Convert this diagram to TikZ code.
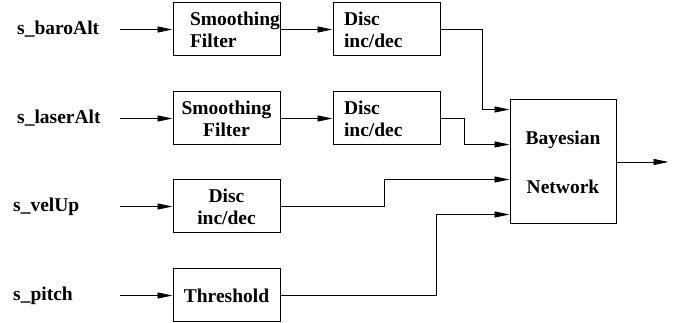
\documentclass[tikz,border=0pt]{standalone}
\usepackage{fontspec}
\setmainfont{Liberation Serif}
\usetikzlibrary{arrows.meta,positioning}
\tikzset{
  blk/.style={draw, line width=1pt, minimum width=107pt, minimum height=53pt, inner sep=0pt, align=center},
  sig/.style={anchor=west, inner sep=0pt},
}
\begin{document}
\begin{tikzpicture}[x=1pt,y=1pt,font=\fontsize{19.5}{22}\selectfont\bfseries,
    node distance=160pt, >={Triangle[length=15pt,width=6pt]}]
  \useasboundingbox (0,0) rectangle (678,323);
  \node (a) [sig] at (17,293.5) {s\_baroAlt};
  \node (b) [sig] at (17,204.5) {s\_laserAlt};
  \node (c) [sig] at (13,116.5) {s\_velUp};
  \node (p) [sig] at (13,27.5) {s\_pitch};
  \node (f1) [blk, text width=73pt, align=left] at (226.5,293.5) {Smoothing\\Filter};
  \node (d1) [blk, text width=85pt, align=left, right of=f1] {Disc\\inc/dec};
  \node (f2) [blk] at (226.5,204.5) {Smoothing\\Filter};
  \node (d2) [blk, text width=85pt, align=left, right of=f2] {Disc\\inc/dec};
  \node (d3) [blk] at (226.5,116.5) {Disc\\inc/dec};
  \node (t) [blk] at (226.5,27.5) {Threshold};
  \node (bn) [blk, minimum width=106pt, minimum height=124pt] at (563,161) {Bayesian\\[27pt]Network};
  \coordinate (i1) at (120,293.5);
  \coordinate (i2) at (120,204.5);
  \coordinate (i3) at (120,116.5);
  \coordinate (i4) at (120,27.5);
  \begin{scope}[line width=0.9pt]
      \draw[->] (i1) -- (f1);
      \draw[->] (i2) -- (f2);
      \draw[->] (i3) -- (d3);
      \draw[->] (i4) -- (t);
      \draw[->] (f1) -- (d1);
      \draw[->] (f2) -- (d2);
      \draw[->] (d1.east) -| ([xshift=-27pt,yshift=52.5pt]bn.west) -- ([yshift=52.5pt]bn.west);
      \draw[->] (d2.east) -| ([xshift=-45pt,yshift=17.5pt]bn.west) -- ([yshift=17.5pt]bn.west);
      \draw[->] (d3.east) -| ([xshift=-125pt,yshift=-17.5pt]bn.west) -- ([yshift=-17.5pt]bn.west);
      \draw[->] (t.east) -| ([xshift=-73pt,yshift=-52.5pt]bn.west) -- ([yshift=-52.5pt]bn.west);
      \draw[->] (bn.east) -- ++(52,0);
  \end{scope}
\end{tikzpicture}
\end{document}
